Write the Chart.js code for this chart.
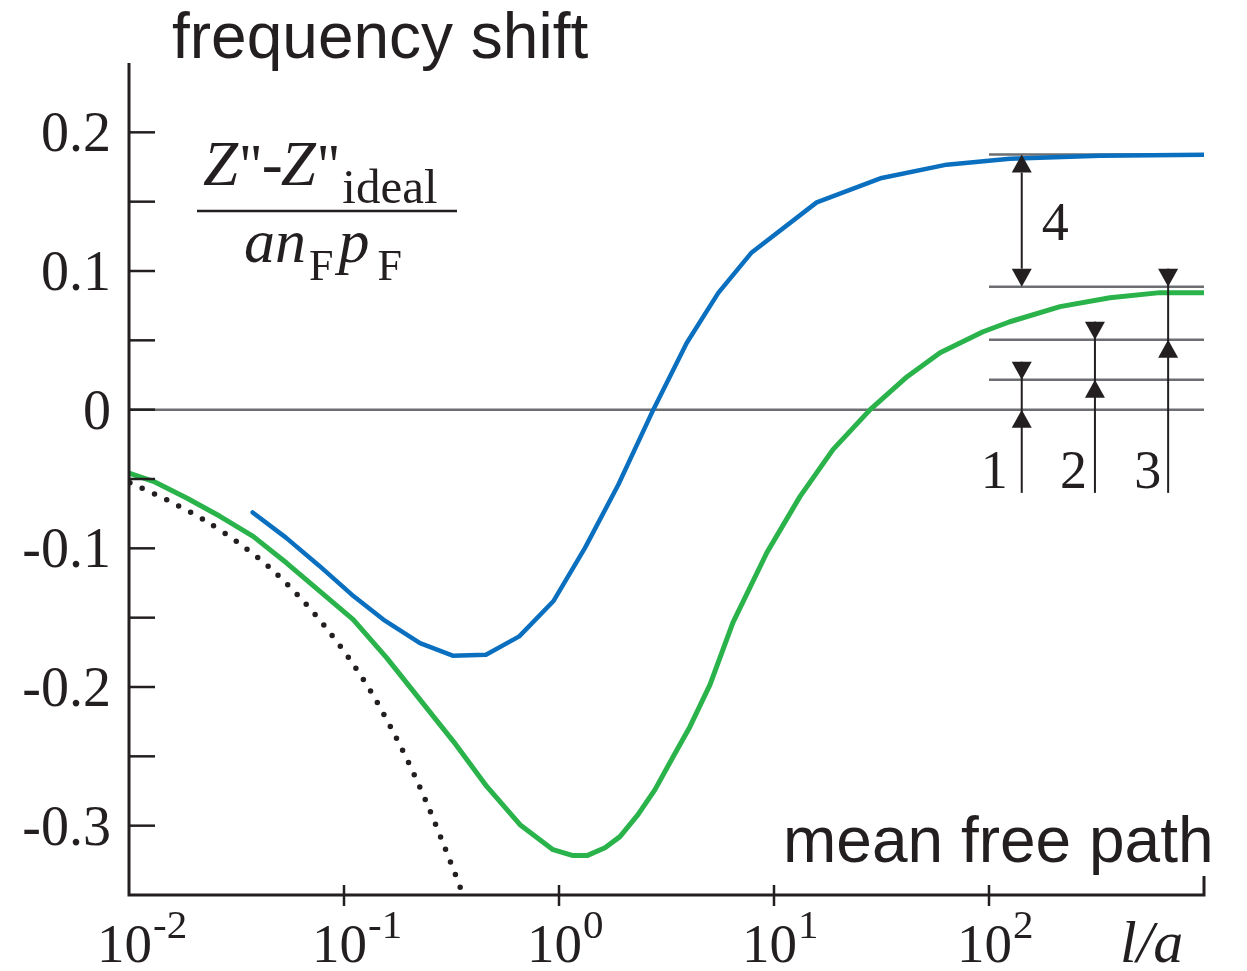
<!DOCTYPE html>
<html>
<head>
<meta charset="utf-8">
<script src="https://cdn.jsdelivr.net/npm/chart.js@4.4.1/dist/chart.umd.min.js"></script>
<style>
  html, body { margin: 0; padding: 0; background: #fff; }
  #wrap { width: 1247px; height: 971px; }
</style>
</head>
<body>
<div id="wrap"><canvas id="chart" width="1247" height="971"></canvas></div>
<script>
// blue curve (l/a, shift)
const blueX = [0.0376, 0.0537, 0.0766, 0.1087, 0.1524, 0.2257, 0.3204, 0.4575, 0.6533, 0.9408,
    1.321, 1.887, 2.746, 3.926, 5.508, 7.876, 15.8, 31.7, 63.6, 125, 328, 1000]
const blueY = [-0.0741, -0.0923, -0.1125, -0.1334, -0.1514, -0.1683, -0.1774, -0.1767, -0.1635, -0.1382,
    -0.0997, -0.0541, 0.0, 0.0481, 0.0842, 0.1134, 0.1495, 0.1671, 0.1767, 0.181, 0.1832, 0.1839]

// green curve
const greenX = [0.01, 0.01298, 0.01854, 0.02649, 0.0378, 0.0541, 0.0773, 0.1104, 0.158, 0.2257,
    0.3225, 0.4613, 0.6586, 0.938, 1.162, 1.35, 1.637, 1.921, 2.33, 2.796, 3.39, 4.065, 5.04,
    6.44, 9.27, 13.2, 18.8, 28.0, 41.6, 59.2, 93.8, 125, 214, 365, 624, 1000]
const greenY = [-0.0457, -0.0517, -0.0637, -0.0769, -0.0914, -0.1106, -0.131, -0.1514, -0.179, -0.2091,
    -0.2392, -0.2717, -0.2993, -0.3173, -0.3216, -0.3216, -0.3159, -0.3079, -0.2921, -0.274, -0.2505, -0.2286, -0.1983,
    -0.1536, -0.103, -0.0627, -0.0288, 0.0, 0.0238, 0.0411, 0.0562, 0.0634, 0.0743, 0.0807, 0.0844, 0.0844]

// dotted asymptote
const dotX = [0.0101, 0.01514, 0.0222, 0.0319, 0.045, 0.0613, 0.0816, 0.1067, 0.1346, 0.1667,
    0.2028, 0.2425, 0.2847, 0.3343, 0.3527]
const dotY = [-0.0527, -0.0654, -0.0793, -0.0954, -0.1137, -0.1341, -0.1563, -0.1803, -0.2043, -0.2303,
    -0.2567, -0.2836, -0.3101, -0.3377, -0.3474]

// axes
const yTicks = [0.2, 0.15, 0.1, 0.05, 0, -0.05, -0.1, -0.15, -0.2, -0.25, -0.3]
const yLabelVals = [0.2, 0.1, 0, -0.1, -0.2, -0.3]
const yLabels = ['0.2', '0.1', '0', '-0.1', '-0.2', '-0.3']
const xTicks = [0.1, 1, 10, 100]
const xLabelVals = [0.01, 0.1, 1, 10, 100]
const xLabelExp = ['-2', '-1', '0', '1', '2']

// reference levels on the right
const levels = [0.184, 0.0887, 0.0505, 0.0216]
const levelStart = 100

const ink = '#231f20'
const gray = '#6d6e71'

function pts(xs, ys) {
    return xs.map((x, i) => ({ x: x, y: ys[i] }))
}

// arrows: x in data units, tips at levels, label offset in px
const arrows = [
    { x: 142, top: 0.184, bottom: 0.0887, both: true, label: '4', dx: 20, ly: 240 },
    { x: 142, top: 0.0216, bottom: 0, label: '1', dx: -41, ly: 488 },
    { x: 311, top: 0.0505, bottom: 0.0216, label: '2', dx: -35, ly: 488 },
    { x: 681, top: 0.0887, bottom: 0.0505, label: '3', dx: -34, ly: 488 }
]

function headUp(ctx, x, y) {
    ctx.beginPath()
    ctx.moveTo(x, y)
    ctx.lineTo(x - 10, y + 18)
    ctx.lineTo(x + 10, y + 18)
    ctx.closePath()
    ctx.fill()
}

function headDown(ctx, x, y) {
    ctx.beginPath()
    ctx.moveTo(x, y)
    ctx.lineTo(x - 10, y - 18)
    ctx.lineTo(x + 10, y - 18)
    ctx.closePath()
    ctx.fill()
}

const decor = {
    id: 'decor',
    beforeDatasetsDraw(chart) {
        const ctx = chart.ctx
        const xs = chart.scales.x, ys = chart.scales.y
        ctx.save()
        ctx.strokeStyle = gray
        ctx.lineWidth = 2.5
        // zero line
        ctx.beginPath()
        ctx.moveTo(xs.left, ys.getPixelForValue(0))
        ctx.lineTo(xs.right, ys.getPixelForValue(0))
        ctx.stroke()
        levels.forEach(v => {
            const y = ys.getPixelForValue(v)
            ctx.beginPath()
            ctx.moveTo(xs.getPixelForValue(levelStart), y)
            ctx.lineTo(xs.right, y)
            ctx.stroke()
        })
        ctx.restore()
    },
    afterDatasetsDraw(chart) {
        const ctx = chart.ctx
        const xs = chart.scales.x, ys = chart.scales.y
        const L = xs.left, R = xs.right, T = ys.top, B = ys.bottom
        ctx.save()
        ctx.strokeStyle = ink
        ctx.fillStyle = ink
        ctx.lineCap = 'butt'

        // axis lines
        ctx.lineWidth = 3
        ctx.beginPath()
        ctx.moveTo(L, T)
        ctx.lineTo(L, B)
        ctx.lineTo(R, B)
        ctx.lineTo(R, B - 19)
        ctx.stroke()

        // y ticks (inside)
        ctx.lineWidth = 2.5
        yTicks.forEach(v => {
            const y = ys.getPixelForValue(v)
            ctx.beginPath()
            ctx.moveTo(L, y)
            ctx.lineTo(L + 26, y)
            ctx.stroke()
        })
        // x ticks (crossing)
        xTicks.forEach(v => {
            const x = xs.getPixelForValue(v)
            ctx.beginPath()
            ctx.moveTo(x, B - 10)
            ctx.lineTo(x, B + 11)
            ctx.stroke()
        })

        // y labels
        ctx.font = '56px "Liberation Serif"'
        ctx.textAlign = 'right'
        ctx.textBaseline = 'alphabetic'
        yLabelVals.forEach((v, i) => {
            ctx.fillText(yLabels[i], 111, ys.getPixelForValue(v) + 19)
        })

        // x labels 10^n
        ctx.textAlign = 'left'
        xLabelVals.forEach((v, i) => {
            const x = xs.getPixelForValue(v) - 32
            ctx.font = '55px "Liberation Serif"'
            ctx.fillText('10', x, 962)
            const w = ctx.measureText('10').width
            ctx.font = '41px "Liberation Serif"'
            ctx.fillText(xLabelExp[i], x + w + 1, 938)
        })

        // axis titles
        ctx.font = '64px "Liberation Sans"'
        ctx.fillText('frequency shift', 172, 58)
        ctx.fillText('mean free path', 783, 862)
        ctx.font = 'italic 60px "Liberation Serif"'
        ctx.fillText('l/a', 1120, 962)

        // fraction
        let nx = 203
        const zPart = () => {
            ctx.font = 'italic 63px "Liberation Serif"'
            ctx.fillText('Z', nx, 185)
            nx += ctx.measureText('Z').width + 2
            ctx.font = '60px "Liberation Serif"'
            ctx.fillText("''", nx, 185)
            nx += ctx.measureText("''").width
        }
        zPart()
        ctx.font = '63px "Liberation Serif"'
        ctx.fillText('-', nx, 185)
        nx += ctx.measureText('-').width - 2
        zPart()
        ctx.font = '49px "Liberation Serif"'
        ctx.fillText('ideal', nx + 3, 203)
        ctx.lineWidth = 2.5
        ctx.beginPath()
        ctx.moveTo(197, 211)
        ctx.lineTo(457, 211)
        ctx.stroke()
        let dx = 244
        ctx.font = 'italic 62px "Liberation Serif"'
        ctx.fillText('an', dx, 262)
        dx += ctx.measureText('an').width
        ctx.font = '44px "Liberation Serif"'
        ctx.fillText('F', dx + 3, 280)
        dx += ctx.measureText('F').width + 8
        ctx.font = 'italic 62px "Liberation Serif"'
        ctx.fillText('p', dx, 262)
        dx += ctx.measureText('p').width + 8
        ctx.font = '44px "Liberation Serif"'
        ctx.fillText('F', dx, 280)

        // arrows
        ctx.lineWidth = 2
        ctx.font = '54px "Liberation Serif"'
        arrows.forEach(a => {
            const x = xs.getPixelForValue(a.x)
            const yt = ys.getPixelForValue(a.top)
            const yb = ys.getPixelForValue(a.bottom)
            ctx.beginPath()
            if (a.both) {
                ctx.moveTo(x, yt + 18)
                ctx.lineTo(x, yb - 18)
                ctx.stroke()
                headUp(ctx, x, yt)
                headDown(ctx, x, yb)
            } else {
                ctx.moveTo(x, yt - 18)
                ctx.lineTo(x, ys.getPixelForValue(-0.06))
                ctx.stroke()
                headDown(ctx, x, yt)
                headUp(ctx, x, yb)
            }
            ctx.fillText(a.label, x + a.dx, a.ly)
        })
        ctx.restore()
    }
}

const ctx = document.getElementById('chart').getContext('2d')
new Chart(ctx, {
    type: 'line',
    data: {
        datasets: [{
            data: pts(blueX, blueY),
            borderColor: '#0a6fbf',
            borderWidth: 4.5,
            borderCapStyle: 'round',
            borderJoinStyle: 'round',
            pointRadius: 0,
            tension: 0
        }, {
            data: pts(greenX, greenY),
            borderColor: '#2bb34b',
            borderWidth: 5,
            borderCapStyle: 'round',
            borderJoinStyle: 'round',
            pointRadius: 0,
            tension: 0
        }, {
            data: pts(dotX, dotY),
            borderColor: ink,
            borderWidth: 5.5,
            borderDash: [0, 13.5],
            borderCapStyle: 'round',
            pointRadius: 0,
            tension: 0.3
        }]
    },
    options: {
        responsive: false,
        animation: false,
        devicePixelRatio: 1,
        layout: { padding: { left: 129, right: 43, top: 63, bottom: 76 } },
        plugins: { legend: { display: false }, tooltip: { enabled: false } },
        scales: {
            x: { type: 'logarithmic', min: 0.01, max: 1000, display: false },
            y: { type: 'linear', min: -0.35, max: 0.25, display: false }
        }
    },
    plugins: [decor]
})
</script>
</body>
</html>
